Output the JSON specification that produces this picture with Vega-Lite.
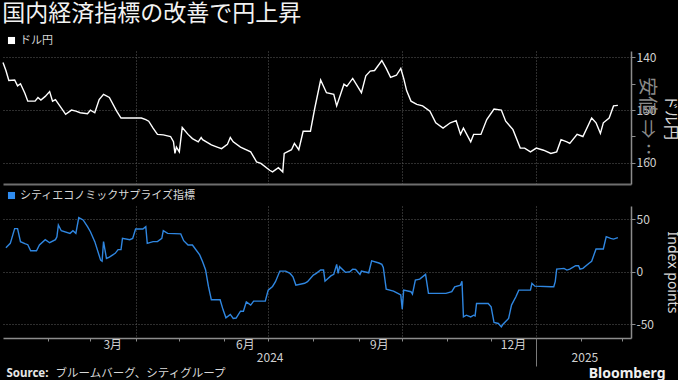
{
  "$schema": "https://vega.github.io/schema/vega-lite/v6.json",
  "background": "#000000",
  "padding": {"left": 0, "right": 0, "top": 3, "bottom": 0},
  "bounds": "flush",
  "spacing": 22,
  "title": {"text": "国内経済指標の改善で円上昇", "anchor": "start", "fontSize": 23, "color": "#f2f2f2", "font": "Noto Sans CJK JP", "fontWeight": "normal", "offset": 9, "dx": 2},
  "datasets": {
    "usdjpy": [
      {"date": "2024-01-01", "v": 141.0}, {"date": "2024-01-03", "v": 142.5}, {"date": "2024-01-05", "v": 144.4}, {"date": "2024-01-09", "v": 144.3},
      {"date": "2024-01-11", "v": 145.4}, {"date": "2024-01-13", "v": 145.0}, {"date": "2024-01-16", "v": 146.8}, {"date": "2024-01-18", "v": 148.3},
      {"date": "2024-01-23", "v": 148.3}, {"date": "2024-01-25", "v": 147.6}, {"date": "2024-01-27", "v": 148.1}, {"date": "2024-01-30", "v": 147.4},
      {"date": "2024-02-02", "v": 146.5}, {"date": "2024-02-04", "v": 148.3}, {"date": "2024-02-06", "v": 148.0}, {"date": "2024-02-09", "v": 149.2},
      {"date": "2024-02-13", "v": 150.8}, {"date": "2024-02-17", "v": 150.0}, {"date": "2024-02-20", "v": 150.2}, {"date": "2024-02-23", "v": 150.5},
      {"date": "2024-02-28", "v": 150.7}, {"date": "2024-03-01", "v": 150.0}, {"date": "2024-03-04", "v": 150.5}, {"date": "2024-03-07", "v": 148.0},
      {"date": "2024-03-10", "v": 147.0}, {"date": "2024-03-14", "v": 147.6}, {"date": "2024-03-19", "v": 150.2}, {"date": "2024-03-22", "v": 151.5},
      {"date": "2024-03-28", "v": 151.5}, {"date": "2024-04-05", "v": 151.5}, {"date": "2024-04-08", "v": 151.8}, {"date": "2024-04-10", "v": 152.1},
      {"date": "2024-04-13", "v": 153.4}, {"date": "2024-04-16", "v": 154.6}, {"date": "2024-04-20", "v": 154.7}, {"date": "2024-04-25", "v": 155.0},
      {"date": "2024-04-27", "v": 156.0}, {"date": "2024-04-28", "v": 158.2}, {"date": "2024-04-29", "v": 157.0}, {"date": "2024-05-01", "v": 157.9},
      {"date": "2024-05-03", "v": 153.3}, {"date": "2024-05-07", "v": 154.6}, {"date": "2024-05-10", "v": 155.4}, {"date": "2024-05-14", "v": 156.0},
      {"date": "2024-05-16", "v": 155.2}, {"date": "2024-05-17", "v": 155.6}, {"date": "2024-05-23", "v": 156.6}, {"date": "2024-05-27", "v": 157.0},
      {"date": "2024-05-30", "v": 157.3}, {"date": "2024-06-03", "v": 156.5}, {"date": "2024-06-05", "v": 155.2}, {"date": "2024-06-07", "v": 156.0},
      {"date": "2024-06-12", "v": 157.0}, {"date": "2024-06-19", "v": 157.9}, {"date": "2024-06-23", "v": 159.8}, {"date": "2024-06-26", "v": 160.1},
      {"date": "2024-07-02", "v": 161.4}, {"date": "2024-07-04", "v": 161.7}, {"date": "2024-07-08", "v": 160.9}, {"date": "2024-07-11", "v": 161.7},
      {"date": "2024-07-12", "v": 158.2}, {"date": "2024-07-17", "v": 157.5}, {"date": "2024-07-19", "v": 156.3}, {"date": "2024-07-22", "v": 157.5},
      {"date": "2024-07-25", "v": 154.0}, {"date": "2024-07-30", "v": 154.0}, {"date": "2024-08-02", "v": 149.6}, {"date": "2024-08-06", "v": 144.3},
      {"date": "2024-08-10", "v": 146.7}, {"date": "2024-08-15", "v": 147.0}, {"date": "2024-08-17", "v": 149.2}, {"date": "2024-08-22", "v": 145.1},
      {"date": "2024-08-24", "v": 145.5}, {"date": "2024-08-28", "v": 144.0}, {"date": "2024-09-03", "v": 146.7}, {"date": "2024-09-06", "v": 143.5},
      {"date": "2024-09-09", "v": 142.6}, {"date": "2024-09-12", "v": 142.5}, {"date": "2024-09-17", "v": 140.6}, {"date": "2024-09-20", "v": 142.1},
      {"date": "2024-09-23", "v": 143.8}, {"date": "2024-09-27", "v": 143.4}, {"date": "2024-09-30", "v": 142.1}, {"date": "2024-10-02", "v": 144.0},
      {"date": "2024-10-04", "v": 146.3}, {"date": "2024-10-07", "v": 148.3}, {"date": "2024-10-11", "v": 148.9}, {"date": "2024-10-15", "v": 149.2},
      {"date": "2024-10-20", "v": 150.2}, {"date": "2024-10-24", "v": 152.4}, {"date": "2024-10-29", "v": 153.4}, {"date": "2024-11-03", "v": 152.4},
      {"date": "2024-11-07", "v": 152.0}, {"date": "2024-11-10", "v": 154.6}, {"date": "2024-11-12", "v": 153.4}, {"date": "2024-11-17", "v": 156.0},
      {"date": "2024-11-19", "v": 154.6}, {"date": "2024-11-24", "v": 154.6}, {"date": "2024-11-28", "v": 151.8}, {"date": "2024-12-03", "v": 149.8},
      {"date": "2024-12-08", "v": 150.0}, {"date": "2024-12-11", "v": 152.1}, {"date": "2024-12-16", "v": 153.7}, {"date": "2024-12-21", "v": 157.2},
      {"date": "2024-12-24", "v": 157.2}, {"date": "2024-12-28", "v": 157.9}, {"date": "2025-01-01", "v": 157.2}, {"date": "2025-01-06", "v": 157.6},
      {"date": "2025-01-11", "v": 158.2}, {"date": "2025-01-15", "v": 157.9}, {"date": "2025-01-18", "v": 155.6}, {"date": "2025-01-22", "v": 156.0},
      {"date": "2025-01-24", "v": 156.3}, {"date": "2025-01-29", "v": 154.6}, {"date": "2025-02-02", "v": 155.0}, {"date": "2025-02-08", "v": 151.5},
      {"date": "2025-02-11", "v": 152.4}, {"date": "2025-02-14", "v": 154.4}, {"date": "2025-02-16", "v": 152.4}, {"date": "2025-02-20", "v": 151.5},
      {"date": "2025-02-23", "v": 149.2}, {"date": "2025-02-26", "v": 149.1}
    ],
    "cesi": [
      {"date": "2024-01-03", "v": 22.9}, {"date": "2024-01-06", "v": 27}, {"date": "2024-01-09", "v": 41}, {"date": "2024-01-11", "v": 41},
      {"date": "2024-01-13", "v": 28.6}, {"date": "2024-01-16", "v": 26.7}, {"date": "2024-01-18", "v": 25.7}, {"date": "2024-01-20", "v": 20},
      {"date": "2024-01-24", "v": 20}, {"date": "2024-01-26", "v": 25.4}, {"date": "2024-01-30", "v": 30.5}, {"date": "2024-02-02", "v": 27.6},
      {"date": "2024-02-06", "v": 30.5}, {"date": "2024-02-07", "v": 33.3}, {"date": "2024-02-08", "v": 44.4}, {"date": "2024-02-10", "v": 39},
      {"date": "2024-02-16", "v": 36.5}, {"date": "2024-02-18", "v": 39}, {"date": "2024-02-20", "v": 36.5}, {"date": "2024-02-22", "v": 51.4},
      {"date": "2024-02-25", "v": 49.2}, {"date": "2024-02-28", "v": 42.9}, {"date": "2024-03-01", "v": 38}, {"date": "2024-03-04", "v": 28.6},
      {"date": "2024-03-08", "v": 11}, {"date": "2024-03-09", "v": 10}, {"date": "2024-03-10", "v": 28.6}, {"date": "2024-03-12", "v": 12.7},
      {"date": "2024-03-14", "v": 14}, {"date": "2024-03-18", "v": 17.5}, {"date": "2024-03-20", "v": 21}, {"date": "2024-03-22", "v": 21},
      {"date": "2024-03-23", "v": 31.7}, {"date": "2024-03-28", "v": 30.5}, {"date": "2024-03-30", "v": 31.7}, {"date": "2024-04-01", "v": 40.6},
      {"date": "2024-04-06", "v": 40.6}, {"date": "2024-04-08", "v": 42.9}, {"date": "2024-04-09", "v": 27}, {"date": "2024-04-13", "v": 28.6},
      {"date": "2024-04-16", "v": 28.6}, {"date": "2024-04-19", "v": 31.7}, {"date": "2024-04-20", "v": 39}, {"date": "2024-04-23", "v": 36.5},
      {"date": "2024-05-02", "v": 36}, {"date": "2024-05-04", "v": 29.5}, {"date": "2024-05-07", "v": 25.4}, {"date": "2024-05-10", "v": 25.4},
      {"date": "2024-05-15", "v": 16}, {"date": "2024-05-17", "v": 9.5}, {"date": "2024-05-19", "v": 2}, {"date": "2024-05-21", "v": -14},
      {"date": "2024-05-23", "v": -26.7}, {"date": "2024-05-29", "v": -26.7}, {"date": "2024-05-31", "v": -36}, {"date": "2024-06-02", "v": -43.8},
      {"date": "2024-06-05", "v": -40.6}, {"date": "2024-06-07", "v": -44.4}, {"date": "2024-06-09", "v": -44}, {"date": "2024-06-12", "v": -37.5},
      {"date": "2024-06-14", "v": -37.5}, {"date": "2024-06-16", "v": -28.6}, {"date": "2024-06-19", "v": -31.7}, {"date": "2024-06-21", "v": -27.9},
      {"date": "2024-06-29", "v": -27.9}, {"date": "2024-07-01", "v": -17.5}, {"date": "2024-07-04", "v": -14}, {"date": "2024-07-06", "v": -9.5},
      {"date": "2024-07-09", "v": 0.6}, {"date": "2024-07-13", "v": 0.6}, {"date": "2024-07-16", "v": -1.6}, {"date": "2024-07-18", "v": -4.8},
      {"date": "2024-07-20", "v": -12.7}, {"date": "2024-07-26", "v": -11}, {"date": "2024-07-28", "v": -9.5}, {"date": "2024-08-01", "v": -3.2},
      {"date": "2024-08-03", "v": -1.6}, {"date": "2024-08-06", "v": 1.6}, {"date": "2024-08-08", "v": 1.6}, {"date": "2024-08-09", "v": -9},
      {"date": "2024-08-13", "v": -4}, {"date": "2024-08-15", "v": -2.5}, {"date": "2024-08-17", "v": 7}, {"date": "2024-08-18", "v": -1.6},
      {"date": "2024-08-19", "v": 4.8}, {"date": "2024-08-23", "v": -0.6}, {"date": "2024-08-26", "v": 0}, {"date": "2024-08-28", "v": 2.5},
      {"date": "2024-08-30", "v": 2.2}, {"date": "2024-09-02", "v": -2.5}, {"date": "2024-09-03", "v": 0.6}, {"date": "2024-09-08", "v": -1},
      {"date": "2024-09-10", "v": 10.4}, {"date": "2024-09-15", "v": 8.3}, {"date": "2024-09-17", "v": 7}, {"date": "2024-09-18", "v": 4},
      {"date": "2024-09-20", "v": -16.5}, {"date": "2024-09-25", "v": -18.4}, {"date": "2024-09-28", "v": -20.6}, {"date": "2024-09-30", "v": -22},
      {"date": "2024-10-01", "v": -35.6}, {"date": "2024-10-02", "v": -17.5}, {"date": "2024-10-07", "v": -19}, {"date": "2024-10-08", "v": -21.3},
      {"date": "2024-10-10", "v": -8}, {"date": "2024-10-13", "v": -7}, {"date": "2024-10-17", "v": -2.5}, {"date": "2024-10-19", "v": -20.6},
      {"date": "2024-10-31", "v": -20.6}, {"date": "2024-11-04", "v": -19}, {"date": "2024-11-06", "v": -14.3}, {"date": "2024-11-10", "v": -12.7},
      {"date": "2024-11-11", "v": -9}, {"date": "2024-11-12", "v": -42.9}, {"date": "2024-11-14", "v": -41.3}, {"date": "2024-11-17", "v": -42.9},
      {"date": "2024-11-19", "v": -41.3}, {"date": "2024-11-20", "v": -42}, {"date": "2024-11-21", "v": -30.2}, {"date": "2024-11-29", "v": -30.2},
      {"date": "2024-12-01", "v": -33.3}, {"date": "2024-12-03", "v": -48.3}, {"date": "2024-12-06", "v": -49.2}, {"date": "2024-12-08", "v": -52.4},
      {"date": "2024-12-09", "v": -50.2}, {"date": "2024-12-13", "v": -44.4}, {"date": "2024-12-15", "v": -31.7}, {"date": "2024-12-18", "v": -23.8},
      {"date": "2024-12-20", "v": -17.5}, {"date": "2024-12-28", "v": -17.5}, {"date": "2024-12-29", "v": -11}, {"date": "2024-12-31", "v": -13.7},
      {"date": "2025-01-11", "v": -14.3}, {"date": "2025-01-13", "v": -14.3}, {"date": "2025-01-14", "v": -9.5}, {"date": "2025-01-15", "v": 2.5},
      {"date": "2025-01-20", "v": 3.2}, {"date": "2025-01-22", "v": 1.6}, {"date": "2025-01-24", "v": 2.5}, {"date": "2025-01-28", "v": 5.7},
      {"date": "2025-01-30", "v": 5.7}, {"date": "2025-01-31", "v": 2.5}, {"date": "2025-02-02", "v": 3.2}, {"date": "2025-02-06", "v": 7.9},
      {"date": "2025-02-08", "v": 10}, {"date": "2025-02-11", "v": 21.6}, {"date": "2025-02-16", "v": 21.6}, {"date": "2025-02-18", "v": 33.3},
      {"date": "2025-02-21", "v": 31.7}, {"date": "2025-02-23", "v": 31}, {"date": "2025-02-26", "v": 32.4}
    ]
  },
  "resolve": {"scale": {"color": "independent"}, "legend": {"color": "independent"}},
  "vconcat": [
    {
      "width": 628,
      "height": 133,
      "data": {"name": "usdjpy"},
      "layer": [
        {
          "mark": {"type": "line", "strokeWidth": 1.4},
          "encoding": {
            "x": {"field": "date", "type": "temporal", "scale": {"domain": ["2024-01-01", "2025-03-07"]},
              "axis": {"orient": "bottom", "values": ["2024-04-01", "2024-07-01", "2024-10-01", "2025-01-01"], "labels": false, "ticks": false, "grid": true, "title": null, "domainWidth": 2, "domainColor": "#6e6e6e"}},
            "y": {"field": "v", "type": "quantitative", "scale": {"domain": [138.8, 164], "reverse": true, "nice": false, "zero": false},
              "axis": {"orient": "right", "values": [140, 145, 150, 155, 160], "labelExpr": "datum.value % 10 == 0 ? datum.label : ''",
                "gridOpacity": {"condition": {"test": "datum.value % 10 == 0", "value": 1}, "value": 0},
                "tickSize": 4, "labelPadding": 1, "domainWidth": 1.5,
                "title": "ドル円", "titleFontSize": 15, "titleAngle": 90, "titleX": 39, "titleY": 66, "titleBaseline": "middle", "titleAlign": "center"}},
            "color": {"datum": "ドル円", "scale": {"range": ["#ffffff"]},
              "legend": {"orient": "none", "legendX": 3, "legendY": -16, "title": null, "symbolType": "square", "symbolSize": 50, "symbolFillColor": "#ffffff", "symbolStrokeWidth": 0, "labelFontSize": 11, "labelColor": "#d8d8d8", "labelOffset": 3, "labelLimit": 300,
                "encode": {"symbols": {"update": {"fill": {"value": "#ffffff"}, "strokeWidth": {"value": 0}}}}}}
          }
        },
        {
          "mark": {"type": "point", "opacity": 0},
          "encoding": {
            "x": {"field": "date", "type": "temporal"},
            "y": {"field": "v", "type": "quantitative",
              "axis": {"orient": "right", "labels": false, "ticks": false, "domain": false, "grid": false,
                "title": "安値 ⇒ …", "titleColor": "#8a8a8a", "titleFontSize": 19, "titleAngle": 90, "titleX": 15, "titleY": 68, "titleBaseline": "middle", "titleAlign": "center"}}
          }
        }
      ],
      "resolve": {"axis": {"y": "independent"}}
    },
    {
      "width": 628,
      "height": 132,
      "data": {"name": "cesi"},
      "layer": [
        {
          "mark": {"type": "line", "strokeWidth": 1.4},
          "encoding": {
            "x": {"field": "date", "type": "temporal", "scale": {"domain": ["2024-01-01", "2025-03-07"]},
              "axis": {"orient": "bottom", "values": ["2024-02-01", "2024-03-01", "2024-04-01", "2024-05-01", "2024-06-01", "2024-07-01", "2024-08-01", "2024-09-01", "2024-10-01", "2024-11-01", "2024-12-01", "2025-01-01", "2025-02-01", "2025-03-01"],
                "labels": false, "ticks": true, "tickSize": 3, "grid": false, "title": null, "domainWidth": 1.5}},
            "y": {"field": "v", "type": "quantitative", "scale": {"domain": [-63, 62.5], "nice": false, "zero": false},
              "axis": {"orient": "right", "values": [-50, -25, 0, 25, 50], "labelExpr": "datum.value % 50 == 0 ? replace(datum.label, '−', '-') : ''",
                "gridOpacity": {"condition": {"test": "datum.value % 50 == 0", "value": 1}, "value": 0},
                "tickSize": 4, "labelPadding": 1, "domainWidth": 1.5,
                "title": "Index points", "titleFontSize": 14, "titleFont": "Noto Sans", "titleAngle": 90, "titleX": 40, "titleY": 66, "titleBaseline": "middle", "titleAlign": "center"}},
            "color": {"datum": "シティエコノミックサプライズ指標", "scale": {"range": ["#2f86e0"]},
              "legend": {"orient": "none", "legendX": 3, "legendY": -16, "title": null, "symbolType": "square", "symbolSize": 50, "symbolFillColor": "#2f8cf0", "symbolStrokeWidth": 0, "labelFontSize": 11, "labelColor": "#d8d8d8", "labelOffset": 3, "labelLimit": 400,
                "encode": {"symbols": {"update": {"fill": {"value": "#2f8cf0"}, "strokeWidth": {"value": 0}}}}}}
          }
        },
        {
          "mark": {"type": "point", "opacity": 0},
          "encoding": {
            "x": {"field": "date", "type": "temporal",
              "axis": {"orient": "bottom", "values": ["2024-04-01", "2024-07-01", "2024-10-01", "2025-01-01"], "labels": false, "ticks": false, "domain": false, "grid": true, "title": null}},
            "y": {"field": "v", "type": "quantitative"}
          }
        },
        {
          "mark": {"type": "point", "opacity": 0},
          "encoding": {
            "x": {"field": "date", "type": "temporal",
              "axis": {"orient": "bottom", "values": ["2024-03-16", "2024-06-15", "2024-09-15", "2024-12-16"], "labelExpr": "(month(datum.value) + 1) + '月'", "labelFontSize": 12, "labelPadding": 1, "ticks": false, "domain": false, "grid": false,
                "title": "Source:", "titleFont": "Noto Sans", "titleFontWeight": "bold", "titleFontSize": 11.5, "titleColor": "#e6e6e6", "titleX": 3, "titleY": 38, "titleAlign": "left", "titleBaseline": "alphabetic"}},
            "y": {"field": "v", "type": "quantitative"}
          }
        },
        {
          "mark": {"type": "point", "opacity": 0},
          "encoding": {
            "x": {"field": "date", "type": "temporal",
              "axis": {"orient": "bottom", "values": ["2024-07-02", "2025-02-03"], "labelExpr": "timeFormat(datum.value, '%Y')", "labelFontSize": 12, "labelPadding": 14, "ticks": false, "domain": false, "grid": false,
                "title": "ブルームバーグ、シティグループ", "titleFontWeight": "normal", "titleFontSize": 11.5, "titleColor": "#d8d8d8", "titleX": 52, "titleY": 38, "titleAlign": "left", "titleBaseline": "alphabetic"}},
            "y": {"field": "v", "type": "quantitative"}
          }
        },
        {
          "mark": {"type": "point", "opacity": 0},
          "encoding": {
            "x": {"field": "date", "type": "temporal",
              "axis": {"orient": "bottom", "values": ["2025-01-01"], "labels": false, "ticks": true, "tickSize": 28, "tickColor": "#7a7a7a", "domain": false, "grid": false,
                "title": "Bloomberg", "titleFont": "Noto Sans", "titleFontWeight": "bold", "titleFontSize": 14, "titleColor": "#f0f0f0", "titleX": 662, "titleY": 39, "titleAlign": "right", "titleBaseline": "alphabetic"}},
            "y": {"field": "v", "type": "quantitative"}
          }
        }
      ],
      "resolve": {"axis": {"x": "independent"}}
    }
  ],
  "config": {
    "font": "Noto Sans CJK JP",
    "view": {"stroke": null},
    "axis": {"labelColor": "#d0d0d0", "labelFont": "Noto Sans CJK JP", "labelFontSize": 12, "domainColor": "#8c8c8c", "tickColor": "#8c8c8c", "gridColor": "#5c5c5c", "gridDash": [1, 2], "titleColor": "#d8d8d8", "titleFont": "Noto Sans CJK JP", "titleFontWeight": "normal"}
  }
}
